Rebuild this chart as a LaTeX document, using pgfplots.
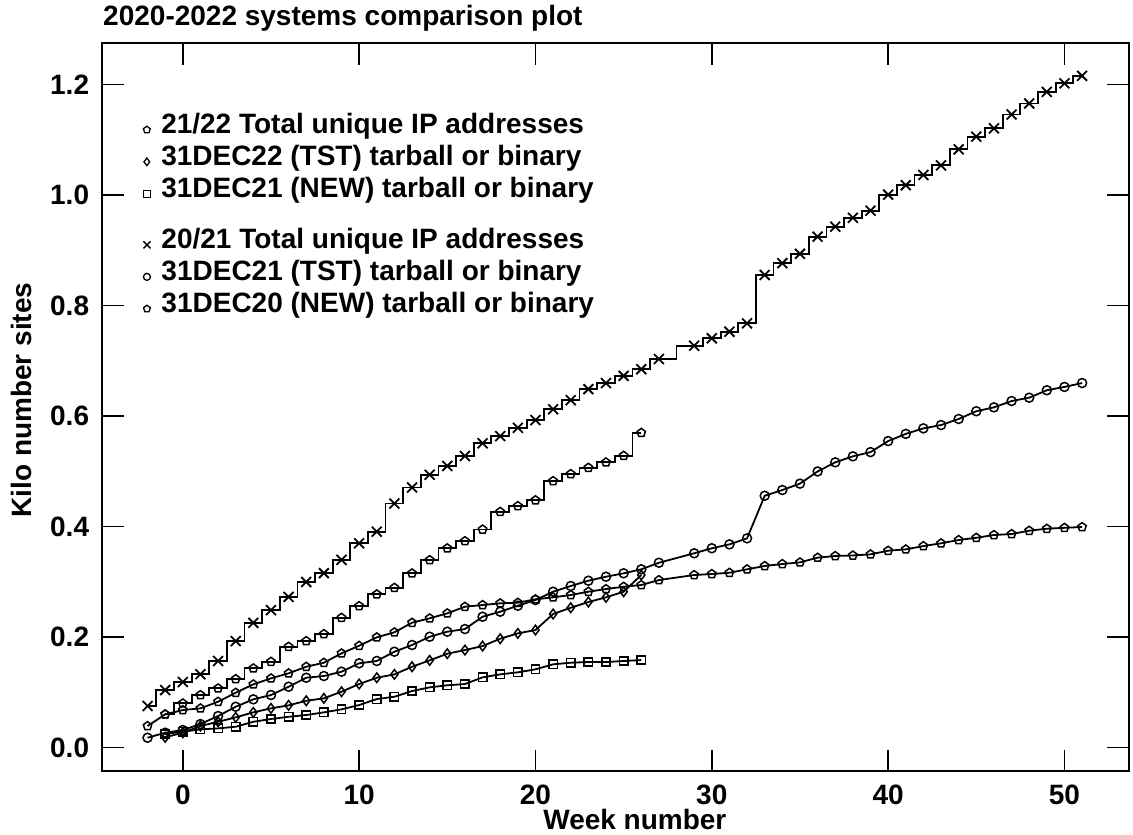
\documentclass[border=0pt]{standalone}
\usepackage{pgfplots}
\pgfplotsset{compat=1.18}
\usepackage{pgfplotstable}
\usepackage{fontspec}
\setmainfont{Liberation Sans}
\usetikzlibrary{plotmarks}

\pgfplotstableread{
w v
-2 0.0755
-1 0.1044
0 0.119
1 0.133
2 0.157
3 0.193
4 0.226
5 0.249
6 0.273
7 0.300
8 0.316
9 0.340
10 0.370
11 0.391
12 0.442
13 0.471
14 0.494
15 0.510
16 0.528
17 0.551
18 0.564
19 0.579
20 0.593
21 0.6125
22 0.629
23 0.649
24 0.660
25 0.673
26 0.685
27 0.7035
29 0.7276
30 0.741
31 0.753
32 0.768
33 0.8556
34 0.877
35 0.894
36 0.925
37 0.943
38 0.959
39 0.972
40 1.001
41 1.018
42 1.0366
43 1.054
44 1.083
45 1.106
46 1.121
47 1.146
48 1.166
49 1.187
50 1.2025
51 1.216
}\totalA

\pgfplotstableread{
w v
-2 0.0393
-1 0.0604
0 0.0682
1 0.0713
2 0.0833
3 0.0996
4 0.1147
5 0.1256
6 0.1347
7 0.1466
8 0.1539
9 0.1708
10 0.1846
11 0.1998
12 0.2089
13 0.2263
14 0.2342
15 0.2433
16 0.2552
17 0.2583
18 0.2614
19 0.2625
20 0.2686
21 0.2722
22 0.2764
23 0.2824
24 0.2872
25 0.2914
26 0.2945
27 0.3035
29 0.3126
30 0.3144
31 0.3167
32 0.3229
33 0.329
34 0.3325
35 0.3355
36 0.344
37 0.347
38 0.348
39 0.350
40 0.3566
41 0.359
42 0.365
43 0.370
44 0.376
45 0.380
46 0.385
47 0.3868
48 0.3928
49 0.3964
50 0.398
51 0.3995
}\newA

\pgfplotstableread{
w v
-2 0.0181
-1 0.0272
0 0.032
1 0.0429
2 0.0574
3 0.0742
4 0.0876
5 0.0954
6 0.1104
7 0.1267
8 0.1298
9 0.1376
10 0.1528
11 0.157
12 0.1738
13 0.1859
14 0.2009
15 0.21
16 0.2148
17 0.2371
18 0.2462
19 0.257
20 0.2673
21 0.2824
22 0.2927
23 0.3023
24 0.3095
25 0.3157
26 0.3229
27 0.3348
29 0.3519
30 0.361
31 0.368
32 0.379
33 0.456
34 0.4664
35 0.478
36 0.500
37 0.5165
38 0.5274
39 0.535
40 0.555
41 0.568
42 0.578
43 0.584
44 0.595
45 0.609
46 0.616
47 0.6275
48 0.6335
49 0.647
50 0.653
51 0.660
}\tstA

\pgfplotstableread{
w v
-1 0.0604
0 0.0803
1 0.0954
2 0.1075
3 0.1243
4 0.1437
5 0.1557
6 0.1828
7 0.1931
8 0.2058
9 0.2353
10 0.2565
11 0.2776
12 0.2896
13 0.3156
14 0.3397
15 0.361
16 0.374
17 0.395
18 0.427
19 0.4375
20 0.448
21 0.4827
22 0.4954
23 0.5068
24 0.5165
25 0.5285
26 0.570
}\totalB

\pgfplotstableread{
w v
-1 0.0188
0 0.0272
1 0.0393
2 0.047
3 0.055
4 0.064
5 0.0713
6 0.0767
7 0.085
8 0.0894
9 0.1014
10 0.1153
11 0.1267
12 0.1328
13 0.1466
14 0.1581
15 0.1702
16 0.1768
17 0.184
18 0.1973
19 0.207
20 0.213
21 0.242
22 0.2534
23 0.2637
24 0.2722
25 0.2824
26 0.3126
}\tstB

\pgfplotstableread{
w v
-1 0.0248
0 0.029
1 0.0333
2 0.035
3 0.038
4 0.047
5 0.052
6 0.056
7 0.0592
8 0.064
9 0.0695
10 0.0773
11 0.0881
12 0.0923
13 0.1026
14 0.1093
15 0.113
16 0.1153
17 0.1274
18 0.1328
19 0.1365
20 0.1419
21 0.151
22 0.1539
23 0.1551
24 0.1551
25 0.157
26 0.1587
}\newB

\newcommand{\bigfont}{\fontsize{28}{30}\selectfont\bfseries}

\begin{document}
\begin{tikzpicture}
\useasboundingbox (-101.7pt,-63.5pt) rectangle (1031.3pt,771.5pt);
\pgfplotsset{
  base/.style={
    at={(0pt,0pt)}, anchor=south west,
    scale only axis, width=1027.3pt, height=728.8pt,
    xmin=-4.6, xmax=53.66, ymin=-0.043, ymax=1.276,
  },
  ser/.style={black, line width=1.8pt, mark options={solid, fill=white, line width=1.5pt}},
}
\begin{axis}[base,
  axis line style={line width=2pt, black},
  tick style={line width=1.5pt, black},
  major tick length=22pt,
  tick align=inside,
  xtick={0,10,20,30,40,50},
  ytick={0,0.2,0.4,0.6,0.8,1.0,1.2},
  minor tick num=0,
  tick label style={font=\bigfont},
  /pgf/number format/assume math mode=true,
  y tick label style={/pgf/number format/fixed, /pgf/number format/fixed zerofill, /pgf/number format/precision=1},
  xticklabel style={anchor=north, inner sep=0pt, yshift=-12.8pt},
  yticklabel style={anchor=east, inner sep=0pt, xshift=-12.4pt},
  title={2020-2022 systems comparison plot},
  title style={at={(axis description cs:0.0013,1.0151)}, anchor=base west, inner sep=0pt, font=\bigfont},
  xlabel={Week number},
  every axis x label/.style={at={(axis description cs:0.519,-0.0795)}, anchor=base, inner sep=0pt, font=\bigfont},
  ylabel={Kilo number sites},
  every axis y label/.style={at={(axis description cs:-0.0679,0.5096)}, rotate=90, anchor=base, inner sep=0pt, font=\bigfont},
  legend cell align=left,
  legend style={at={(0.0404,0.8999)}, anchor=north west, draw=none, fill=none, inner sep=0pt, column sep=11pt, row sep=4pt, font=\bigfont, nodes={inner sep=0pt, text height=17.5pt, text depth=10.5pt}},
  legend image code/.code={\draw[#1] plot coordinates {(0pt,0pt)};},
]
\addplot[ser, const plot mark mid, mark=x, mark size=7pt, mark options={line width=1.8pt}, forget plot] table[x=w,y=v] {\totalA};
\addplot[ser, mark=pentagon, mark size=4.4pt, forget plot] table[x=w,y=v] {\newA};
\addplot[ser, mark=o, mark size=4.5pt, forget plot] table[x=w,y=v] {\tstA};
\addplot[ser, const plot mark mid, mark=pentagon, mark size=4.4pt, forget plot] table[x=w,y=v] {\totalB};
\addplot[ser, mark=diamond, mark size=4.8pt, forget plot] table[x=w,y=v] {\tstB};
\addplot[ser, mark=square, mark size=4.2pt, forget plot] table[x=w,y=v] {\newB};

\addlegendimage{only marks, black, mark=pentagon, mark size=3.6pt, mark options={line width=1.3pt}}
\addlegendentry{21/22 Total unique IP addresses}
\addlegendimage{only marks, black, mark=diamond, mark size=3.8pt, mark options={line width=1.3pt}}
\addlegendentry{31DEC22 (TST) tarball or binary}
\addlegendimage{only marks, black, mark=square, mark size=3.4pt, mark options={line width=1.3pt}}
\addlegendentry{31DEC21 (NEW) tarball or binary}
\end{axis}

\begin{axis}[base, hide axis,
  legend cell align=left,
  legend style={at={(0.0404,0.7421)}, anchor=north west, draw=none, fill=none, inner sep=0pt, column sep=11pt, row sep=4pt, font=\bigfont, nodes={inner sep=0pt, text height=17.5pt, text depth=10.5pt}},
  legend image code/.code={\draw[#1] plot coordinates {(0pt,0pt)};},
]
\addlegendimage{only marks, black, mark=x, mark size=5pt, mark options={line width=1.4pt}}
\addlegendentry{20/21 Total unique IP addresses}
\addlegendimage{only marks, black, mark=o, mark size=3.5pt, mark options={line width=1.3pt}}
\addlegendentry{31DEC21 (TST) tarball or binary}
\addlegendimage{only marks, black, mark=pentagon, mark size=3.6pt, mark options={line width=1.3pt}}
\addlegendentry{31DEC20 (NEW) tarball or binary}
\end{axis}
\end{tikzpicture}
\end{document}
